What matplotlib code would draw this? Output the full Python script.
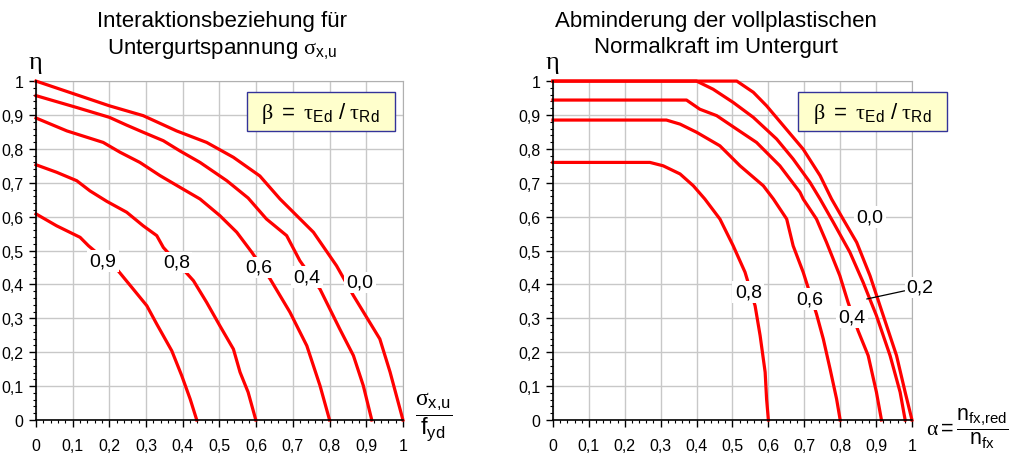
import matplotlib
matplotlib.use('Agg')
import matplotlib.pyplot as plt
from matplotlib.patches import Rectangle
from matplotlib.ticker import MultipleLocator, FuncFormatter

plt.rcParams['font.family'] = ['Liberation Sans', 'DejaVu Sans']
plt.rcParams['mathtext.fontset'] = 'custom'
plt.rcParams['mathtext.rm'] = 'Liberation Sans'
plt.rcParams['mathtext.sf'] = 'Liberation Sans'
plt.rcParams['mathtext.it'] = 'Liberation Serif'

# left: eta vs sigma_x,u / f_yd for beta = 0.0, 0.4, 0.6, 0.8, 0.9
left_beta = ['0,0', '0,4', '0,6', '0,8', '0,9']
left_x = [
    [0, 0.2, 0.292, 0.383, 0.465, 0.538, 0.61, 0.665, 0.756, 0.819, 0.865, 0.937, 0.965, 1.0],
    [0, 0.111, 0.2, 0.247, 0.292, 0.347, 0.392, 0.447, 0.52, 0.578, 0.628, 0.683, 0.719, 0.774, 0.828, 0.865, 0.892, 0.915],
    [0, 0.084, 0.183, 0.229, 0.283, 0.338, 0.401, 0.447, 0.501, 0.547, 0.588, 0.638, 0.692, 0.738, 0.774, 0.8],
    [0, 0.056, 0.111, 0.147, 0.193, 0.247, 0.292, 0.329, 0.347, 0.429, 0.465, 0.501, 0.538, 0.556, 0.578, 0.599],
    [0, 0.056, 0.12, 0.143, 0.224, 0.265, 0.302, 0.329, 0.37, 0.397, 0.42, 0.438],
]
left_y = [
    [1.0, 0.927, 0.898, 0.853, 0.819, 0.775, 0.72, 0.652, 0.554, 0.455, 0.367, 0.239, 0.141, 0],
    [0.957, 0.922, 0.893, 0.870, 0.849, 0.824, 0.794, 0.760, 0.706, 0.655, 0.593, 0.544, 0.470, 0.386, 0.268, 0.190, 0.101, 0],
    [0.891, 0.853, 0.819, 0.790, 0.760, 0.721, 0.681, 0.652, 0.603, 0.554, 0.495, 0.416, 0.318, 0.219, 0.101, 0],
    [0.753, 0.731, 0.706, 0.676, 0.645, 0.613, 0.573, 0.544, 0.509, 0.411, 0.347, 0.278, 0.209, 0.141, 0.082, 0],
    [0.608, 0.573, 0.539, 0.514, 0.440, 0.386, 0.337, 0.283, 0.204, 0.131, 0.062, 0],
]
left_lab_x = [0.883, 0.738, 0.606, 0.383, 0.183]
left_lab_y = [0.406, 0.421, 0.450, 0.465, 0.470]

# right: eta vs alpha = n_fx,red / n_fx for beta = 0.0, 0.2, 0.4, 0.6, 0.8
right_beta = ['0,0', '0,2', '0,4', '0,6', '0,8']
right_x = [
    [0, 0.512, 0.558, 0.595, 0.642, 0.697, 0.744, 0.776, 0.808, 0.846, 0.883, 0.92, 0.957, 0.981, 1.0],
    [0, 0.4, 0.446, 0.502, 0.558, 0.623, 0.669, 0.716, 0.744, 0.781, 0.827, 0.864, 0.901, 0.939, 0.967, 0.981],
    [0, 0.372, 0.409, 0.456, 0.512, 0.567, 0.632, 0.688, 0.697, 0.734, 0.762, 0.799, 0.822, 0.850, 0.878, 0.901, 0.915],
    [0, 0.316, 0.354, 0.4, 0.465, 0.521, 0.586, 0.614, 0.651, 0.669, 0.697, 0.734, 0.753, 0.772, 0.790, 0.8],
    [0, 0.270, 0.307, 0.354, 0.391, 0.423, 0.465, 0.502, 0.535, 0.563, 0.577, 0.591, 0.595, 0.6],
]
right_y = [
    [1.0, 1.0, 0.967, 0.927, 0.868, 0.799, 0.721, 0.652, 0.593, 0.524, 0.426, 0.308, 0.190, 0.082, 0],
    [1.0, 1.0, 0.976, 0.937, 0.893, 0.829, 0.770, 0.701, 0.652, 0.583, 0.495, 0.406, 0.308, 0.190, 0.082, 0],
    [0.944, 0.944, 0.917, 0.898, 0.858, 0.819, 0.750, 0.672, 0.652, 0.593, 0.524, 0.426, 0.347, 0.263, 0.190, 0.082, 0],
    [0.885, 0.885, 0.873, 0.849, 0.809, 0.750, 0.691, 0.652, 0.593, 0.514, 0.436, 0.313, 0.239, 0.150, 0.062, 0],
    [0.760, 0.760, 0.750, 0.726, 0.691, 0.652, 0.593, 0.514, 0.436, 0.337, 0.249, 0.141, 0.062, 0],
]
right_lab_x = [0.883, None, 0.832, 0.716, 0.544]
right_lab_y = [0.598, None, 0.303, 0.357, 0.377]

ticks = [0, 0.1, 0.2, 0.3, 0.4, 0.5, 0.6, 0.7, 0.8, 0.9, 1]


def comma(v, pos):
    s = ('%.1f' % v).replace('.', ',')
    return {'0,0': '0', '1,0': '1'}.get(s, s)


def setup(ax):
    ax.set_xlim(0, 1)
    ax.set_ylim(0, 1)
    ax.set_xticks(ticks)
    ax.set_yticks(ticks)
    ax.xaxis.set_minor_locator(MultipleLocator(0.02))
    ax.yaxis.set_minor_locator(MultipleLocator(0.02))
    ax.xaxis.set_major_formatter(FuncFormatter(comma))
    ax.yaxis.set_major_formatter(FuncFormatter(comma))
    ax.grid(True, which='major', color='#c8c8c8', lw=1.0)
    ax.set_axisbelow(True)
    for s in ['top', 'right']:
        ax.spines[s].set_color('#b0b0b0')
    for s in ['left', 'bottom']:
        ax.spines[s].set_color('black')
        ax.spines[s].set_linewidth(1.2)
        ax.spines[s].set_zorder(5)
    ax.tick_params(which='major', length=5, width=1, labelsize=11.5, direction='out',
                   top=False, right=False)
    ax.tick_params(which='minor', length=2.5, width=0.8, direction='out', top=False, right=False)
    ax.tick_params(axis='x', which='major', pad=8)
    ax.tick_params(axis='y', which='major', pad=4)


fig = plt.figure(figsize=(10.15, 4.56), dpi=100)
ax1 = fig.add_axes([0.0355, 0.0768, 0.3615, 0.7432])
ax2 = fig.add_axes([0.5448, 0.0768, 0.3537, 0.7432])

box = dict(boxstyle='square,pad=0.12', fc='white', ec='none')
beta_txt = r'$\beta\ =\ \tau_{\mathrm{Ed}}\ /\ \tau_{\mathrm{Rd}}$'
for ax, xs, ys, labs, lx, ly, bx in [(ax1, left_x, left_y, left_beta, left_lab_x, left_lab_y, 0.574),
                                     (ax2, right_x, right_y, right_beta, right_lab_x, right_lab_y, 0.683)]:
    setup(ax)
    for x, y in zip(xs, ys):
        ax.plot(x, y, color='#ff0000', lw=2.3, clip_on=False, zorder=3)
    for t, x, y in zip(labs, lx, ly):
        if x is not None:
            ax.text(x, y, t, fontsize=14, ha='center', va='center', bbox=box, zorder=4)
    ax.add_patch(Rectangle((bx, 0.853), 0.404 if ax is ax1 else 0.414, 0.115, fc='#ffffcc',
                           ec='#333399', lw=1.0, zorder=6, clip_on=False))
    ax.text(bx + (0.202 if ax is ax1 else 0.207), 0.908, beta_txt, fontsize=16,
            ha='center', va='center', zorder=7, clip_on=False)

# 0,2 label with leader line
ax2.annotate('0,2', xy=(0.874, 0.357), xytext=(0.985, 0.391), fontsize=14,
             ha='left', va='center', annotation_clip=False,
             arrowprops=dict(arrowstyle='-', color='black', lw=0.9, shrinkA=0, shrinkB=0),
             bbox=dict(boxstyle='square,pad=0.1', fc='white', ec='none'))

fig.text(0.219, 0.953, 'Interaktionsbeziehung für', fontsize=16, ha='center', va='center')
fig.text(0.219, 0.893, r'Untergurtspannung $\sigma_{\mathrm{x{,}u}}$', fontsize=16,
         ha='center', va='center')
fig.text(0.705, 0.953, 'Abminderung der vollplastischen', fontsize=16, ha='center', va='center')
fig.text(0.705, 0.895, 'Normalkraft im Untergurt', fontsize=16, ha='center', va='center')

fig.text(0.035, 0.86, r'$\eta$', fontsize=19, ha='center', va='center')
fig.text(0.544, 0.86, r'$\eta$', fontsize=19, ha='center', va='center')

fig.text(0.427, 0.085, r'$\dfrac{\sigma_{\mathrm{x{,}u}}}{\mathrm{f_{yd}}}$', fontsize=17,
         ha='center', va='center')
fig.text(0.912, 0.06, r'$\alpha = \dfrac{\mathrm{n_{fx{,}red}}}{\mathrm{n_{fx}}}$', fontsize=15.5,
         ha='left', va='center')

fig.savefig('out.png', dpi=100)
